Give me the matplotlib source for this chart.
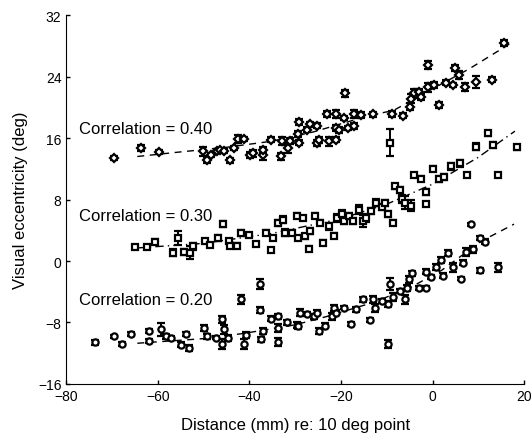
import numpy as np
import matplotlib.pyplot as plt

plt.rcParams['font.family'] = ['Liberation Sans', 'DejaVu Sans']

# correlation = 0.40 (diamonds)
dia_x = [-69.5, -63.8, -59.7, -50.2, -49.2, -48.5, -47.1, -46.5, -45.6, -44.2, -43.4, -42.6,
         -41.3, -39.8, -39.3, -37.1, -37.1, -35.2, -33.0, -33.2, -31.5, -31.2, -29.3, -29.2,
         -29.2, -27.5, -26.8, -25.2, -25.2, -24.9, -23.0, -22.6, -21.2, -21.2, -21.2, -20.4,
         -19.3, -19.1, -18.5, -17.1, -17.1, -15.6, -13.0, -8.9, -6.5, -5.0, -4.8, -4.1,
         -3.0, -2.6, -0.9, -0.9, 0.4, 1.5, 3.0, 4.5, 5.0, 5.8, 7.1, 9.6, 13.0, 15.6]
dia_y = [13.4, 14.7, 14.2, 14.3, 13.1, 13.8, 14.3, 14.4, 14.3, 13.1, 14.7, 15.9,
         15.9, 13.8, 14.0, 13.8, 14.5, 15.8, 15.6, 13.6, 14.7, 15.6, 16.5, 15.4,
         18.1, 17.1, 17.8, 17.6, 15.4, 15.8, 19.1, 15.6, 19.1, 15.8, 17.3, 17.1,
         18.6, 21.8, 17.3, 17.6, 19.1, 19.0, 19.1, 19.1, 18.9, 20.1, 21.1, 21.8,
         22.0, 21.3, 22.6, 25.5, 22.9, 20.3, 23.2, 22.9, 25.1, 24.2, 22.6, 23.3, 23.6, 28.4]
dia_e = [0.2, 0.4, 0.3, 0.6, 0.4, 0.3, 0.3, 0.3, 0.3, 0.3, 0.3, 0.5,
         0.3, 0.4, 0.5, 0.6, 0.4, 0.3, 0.5, 0.5, 0.6, 0.4, 0.4, 0.3,
         0.4, 0.3, 0.3, 0.3, 0.4, 0.4, 0.4, 0.6, 0.5, 0.3, 0.4, 0.4,
         0.3, 0.5, 0.3, 0.4, 0.5, 0.4, 0.3, 0.4, 0.3, 0.4, 0.6, 0.6,
         0.4, 0.4, 0.6, 0.5, 0.4, 0.4, 0.3, 0.3, 0.4, 0.5, 0.5, 0.8, 0.3, 0.4]
dia_fit_x = [-64.5, -55, -45, -35, -26, -14, -8.5, 0, 8, 17.8]
dia_fit_y = [13.6, 14.2, 14.8, 15.6, 16.8, 18.9, 19.6, 22.4, 25.0, 28.6]

# correlation = 0.30 (squares)
sq_x = [-64.9, -62.3, -60.6, -56.6, -55.6, -54.2, -53.0, -52.3, -49.7, -48.6, -46.8, -45.8,
        -44.5, -44.2, -42.7, -41.8, -40.1, -38.6, -36.4, -35.2, -34.8, -33.7, -32.6, -32.3,
        -30.8, -29.7, -29.3, -28.2, -27.8, -27.1, -26.7, -25.6, -24.5, -24.0, -22.6, -21.5,
        -20.8, -19.7, -19.3, -18.2, -17.4, -16.0, -15.2, -14.5, -13.4, -12.3, -11.1, -10.4,
        -9.7, -8.6, -8.2, -7.1, -6.7, -6.0, -4.8, -4.1, -2.6, -1.5, -1.5, 0.0,
        1.5, 2.6, 4.1, 5.9, 7.6, 9.6, 12.2, 13.3, 14.3, 18.5, -9.4]
sq_y = [1.8, 1.8, 2.5, 1.1, 3.0, 1.2, 1.1, 1.9, 2.6, 2.1, 3.0, 4.8,
        2.6, 2.0, 2.0, 3.7, 3.4, 2.2, 3.7, 1.4, 3.0, 5.0, 5.4, 3.7,
        3.7, 5.9, 3.0, 5.6, 3.2, 1.6, 3.9, 5.9, 5.0, 2.4, 4.5, 3.3,
        5.6, 6.1, 5.2, 5.9, 5.2, 6.7, 5.2, 5.6, 6.5, 7.6, 7.0, 7.6,
        6.1, 5.0, 9.7, 9.2, 8.1, 7.6, 7.2, 11.2, 10.7, 9.0, 7.4, 12.0,
        10.7, 10.9, 12.3, 12.7, 11.2, 14.9, 16.6, 15.1, 11.2, 14.8, 15.4]
sq_e = [0.3, 0.3, 0.3, 0.4, 0.9, 0.4, 0.9, 0.5, 0.3, 0.3, 0.4, 0.4,
        0.3, 0.3, 0.3, 0.4, 0.3, 0.3, 0.3, 0.2, 0.3, 0.4, 0.4, 0.5,
        0.3, 0.3, 0.3, 0.3, 0.3, 0.3, 0.4, 0.3, 0.3, 0.3, 0.4, 0.3,
        0.5, 0.5, 0.4, 0.4, 0.4, 0.6, 0.8, 0.5, 0.4, 0.5, 0.4, 0.4,
        0.4, 0.3, 0.3, 0.4, 0.5, 0.8, 0.7, 0.3, 0.3, 0.4, 0.3, 0.3,
        0.4, 0.4, 0.5, 0.5, 0.3, 0.4, 0.3, 0.4, 0.3, 0.3, 1.8]
sq_fit_x = [-64.5, -50, -35, -20, -10, 0, 10, 18]
sq_fit_y = [1.7, 2.3, 3.6, 5.5, 7.4, 10.0, 13.5, 16.9]

# correlation = 0.20 (circles)
ci_x = [-73.8, -69.7, -67.8, -65.8, -61.9, -61.9, -59.3, -58.2, -57.1, -54.9, -53.9, -53.2,
        -50.0, -49.3, -47.4, -45.9, -45.6, -45.9, -44.7, -41.9, -41.3, -40.8, -37.8, -37.8,
        -37.5, -37.1, -35.2, -33.7, -33.7, -33.7, -31.9, -29.7, -29.3, -28.9, -27.5, -26.0,
        -25.2, -24.9, -23.4, -22.0, -21.5, -21.2, -19.3, -17.8, -16.7, -15.2, -13.7, -13.0,
        -12.6, -11.1, -9.7, -9.7, -9.3, -8.6, -7.1, -6.0, -5.6, -5.2, -4.5, -3.0,
        -1.5, -1.5, -0.4, 0.7, 1.8, 2.2, 3.3, 4.5, 6.3, 6.7, 7.4, 8.4,
        8.9, 10.4, 11.5, 10.4, 14.4]
ci_y = [-10.6, -9.8, -10.8, -9.5, -9.1, -10.4, -8.9, -9.8, -10.0, -10.9, -9.5, -11.3,
        -8.7, -9.8, -10.0, -7.6, -8.9, -10.8, -10.0, -5.0, -10.8, -9.6, -3.0, -6.4,
        -10.2, -9.1, -7.5, -7.2, -8.7, -10.5, -8.0, -8.3, -8.5, -6.7, -6.9, -7.2,
        -6.7, -9.1, -8.4, -7.2, -6.1, -6.7, -6.1, -8.2, -6.3, -5.0, -7.7, -5.0,
        -6.1, -5.2, -10.8, -5.6, -3.0, -4.7, -3.9, -5.0, -3.5, -2.4, -1.6, -3.5,
        -3.5, -1.4, -2.1, -0.8, 0.1, -1.9, 1.0, -0.8, -2.3, -0.2, 1.2, 4.8,
        1.5, 3.0, 2.5, -1.2, -0.8]
ci_e = [0.3, 0.2, 0.2, 0.2, 0.3, 0.3, 0.8, 0.3, 0.3, 0.3, 0.3, 0.4,
        0.4, 0.3, 0.2, 0.5, 0.6, 0.6, 0.4, 0.6, 0.6, 0.4, 0.6, 0.4,
        0.3, 0.4, 0.3, 0.3, 0.5, 0.5, 0.3, 0.4, 0.4, 0.5, 0.3, 0.3,
        0.3, 0.4, 0.3, 0.5, 0.4, 0.3, 0.2, 0.3, 0.3, 0.3, 0.3, 0.4,
        0.5, 0.3, 0.5, 0.4, 0.8, 0.5, 0.3, 0.6, 0.4, 0.4, 0.3, 0.3,
        0.3, 0.3, 0.3, 0.4, 0.4, 0.3, 0.4, 0.6, 0.2, 0.3, 0.5, 0.2,
        0.4, 0.3, 0.3, 0.3, 0.6]
ci_fit_x = [-64.5, -50, -41, -30, -23, -13, -5, 2, 10.7, 17.8]
ci_fit_y = [-10.7, -10.1, -9.4, -8.3, -7.2, -5.4, -3.5, -1.2, 2.6, 4.8]

labels = ['Correlation = 0.40', 'Correlation = 0.30', 'Correlation = 0.20']
label_y = [17.2, 5.9, -5.0]

fig = plt.figure(figsize=(5.31, 4.35), dpi=100)
ax = fig.add_axes([0.125, 0.115, 0.862, 0.848])

ax.plot(dia_fit_x, dia_fit_y, color='black', lw=1, ls=(0, (5, 4)))
ax.plot(sq_fit_x, sq_fit_y, color='black', lw=1, ls=(0, (6, 3, 1, 3)))
ax.plot(ci_fit_x, ci_fit_y, color='black', lw=1, ls=(0, (5, 4)))

for xs, ys, es, m, ms in [(dia_x, dia_y, dia_e, 'D', 4),
                          (sq_x, sq_y, sq_e, 's', 4),
                          (ci_x, ci_y, ci_e, 'o', 4.5)]:
    ax.errorbar(xs, ys, yerr=es, fmt=m, ms=ms, mfc='white', mec='black', mew=1.6,
                ecolor='black', elinewidth=1.4, capsize=3, capthick=1.4)

for t, yy in zip(labels, label_y):
    ax.text(-77.3, yy, t, fontsize=12, va='center', ha='left')

ax.set_xlim(-80, 20)
ax.set_ylim(-16, 32)
ax.set_xticks([-80, -60, -40, -20, 0, 20])
ax.set_yticks([-16, -8, 0, 8, 16, 24, 32])
ax.spines['top'].set_visible(False)
ax.spines['right'].set_visible(False)
ax.tick_params(direction='in', labelsize=10, width=1, length=3)
ax.set_xlabel('Distance (mm) re: 10 deg point', fontsize=12, labelpad=10)
ax.set_ylabel('Visual eccentricity (deg)', fontsize=12, labelpad=7)

fig.savefig('out.png', dpi=100)
